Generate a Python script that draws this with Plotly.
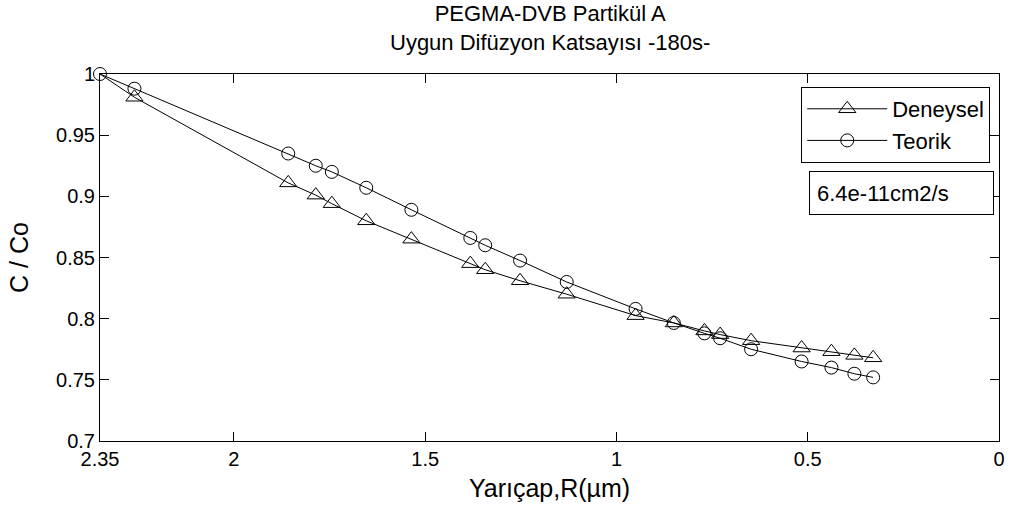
import plotly.graph_objects as go

# Radius (µm) and normalised concentration C/Co
radius = [2.35, 2.26, 1.858, 1.786, 1.744, 1.654, 1.536, 1.382, 1.343, 1.252,
          1.130, 0.950, 0.850, 0.770, 0.729, 0.648, 0.516, 0.438, 0.378, 0.329]
deneysel = [1.0, 0.981, 0.911, 0.901, 0.894, 0.880, 0.865, 0.845, 0.840, 0.831,
            0.820, 0.8025, 0.7965, 0.790, 0.787, 0.782, 0.776, 0.773, 0.770, 0.768]
teorik = [1.0, 0.988, 0.935, 0.925, 0.920, 0.907, 0.889, 0.866, 0.860, 0.8475,
          0.830, 0.808, 0.7965, 0.788, 0.784, 0.775, 0.765, 0.760, 0.755, 0.752]

x_ticks = [2.35, 2, 1.5, 1, 0.5, 0]
x_ticktext = ["2.35", "2", "1.5", "1", "0.5", "0"]
y_ticks = [0.7, 0.75, 0.8, 0.85, 0.9, 0.95, 1.0]
y_ticktext = ["0.7", "0.75", "0.8", "0.85", "0.9", "0.95", "1"]

title_lines = ["PEGMA-DVB Partikül A", "Uygun Difüzyon Katsayısı -180s-"]
diff_coeff = "6.4e-11cm2/s"

FONT = "Liberation Sans, Arial, sans-serif"
BLACK = "#000000"

fig = go.Figure()

# experimental curve starts at the surface value without a marker
fig.add_trace(go.Scatter(
    x=radius[:2], y=deneysel[:2], mode="lines",
    line=dict(color=BLACK, width=1), showlegend=False, hoverinfo="skip",
    cliponaxis=False,
))
fig.add_trace(go.Scatter(
    x=radius[1:], y=deneysel[1:], mode="lines+markers", name="Deneysel",
    line=dict(color=BLACK, width=1),
    marker=dict(symbol="triangle-up-open", size=15, color=BLACK,
                line=dict(color=BLACK, width=1)),
    cliponaxis=False,
))
fig.add_trace(go.Scatter(
    x=radius, y=teorik, mode="lines+markers", name="Teorik",
    line=dict(color=BLACK, width=1),
    marker=dict(symbol="circle-open", size=13, color=BLACK,
                line=dict(color=BLACK, width=1)),
    cliponaxis=False,
))

axis_common = dict(
    showline=True, linecolor=BLACK, linewidth=1, mirror="ticks",
    ticks="inside", ticklen=9, tickwidth=1, tickcolor=BLACK,
    showgrid=False, zeroline=False,
    tickfont=dict(family=FONT, size=20, color=BLACK),
)

fig.update_layout(
    width=1017, height=517,
    margin=dict(l=100, r=12, t=74, b=76),
    paper_bgcolor="white", plot_bgcolor="white",
    font=dict(family=FONT, color=BLACK),
    xaxis=dict(
        range=[2.35, 0], tickvals=x_ticks, ticktext=x_ticktext,
        title=dict(text="Yarıçap,R(µm)", font=dict(family=FONT, size=25, color=BLACK),
                   standoff=10),
        **axis_common,
    ),
    yaxis=dict(
        range=[0.7, 1.0], tickvals=y_ticks, ticktext=y_ticktext,
        title=dict(text="C / Co", font=dict(family=FONT, size=25, color=BLACK),
                   standoff=20),
        **axis_common,
    ),
    legend=dict(
        x=0.780, y=0.9646, xanchor="left", yanchor="top",
        bordercolor=BLACK, borderwidth=1, bgcolor="white",
        font=dict(family=FONT, size=22, color=BLACK),
        itemwidth=80,
    ),
    annotations=[
        dict(
            text="<br>".join(title_lines), xref="paper", yref="paper",
            x=0.5, y=1.1253, xanchor="center", yanchor="middle",
            showarrow=False, align="center",
            font=dict(family=FONT, size=22, color=BLACK),
        ),
        dict(
            text=diff_coeff, xref="paper", yref="paper", x=0.892, y=0.6757,
            xanchor="center", yanchor="middle", showarrow=False,
            align="left", width=169, height=28, borderpad=7,
            bordercolor=BLACK, borderwidth=1, bgcolor="white",
            font=dict(family=FONT, size=22, color=BLACK),
        ),
    ],
)

fig.write_html("out.html")
